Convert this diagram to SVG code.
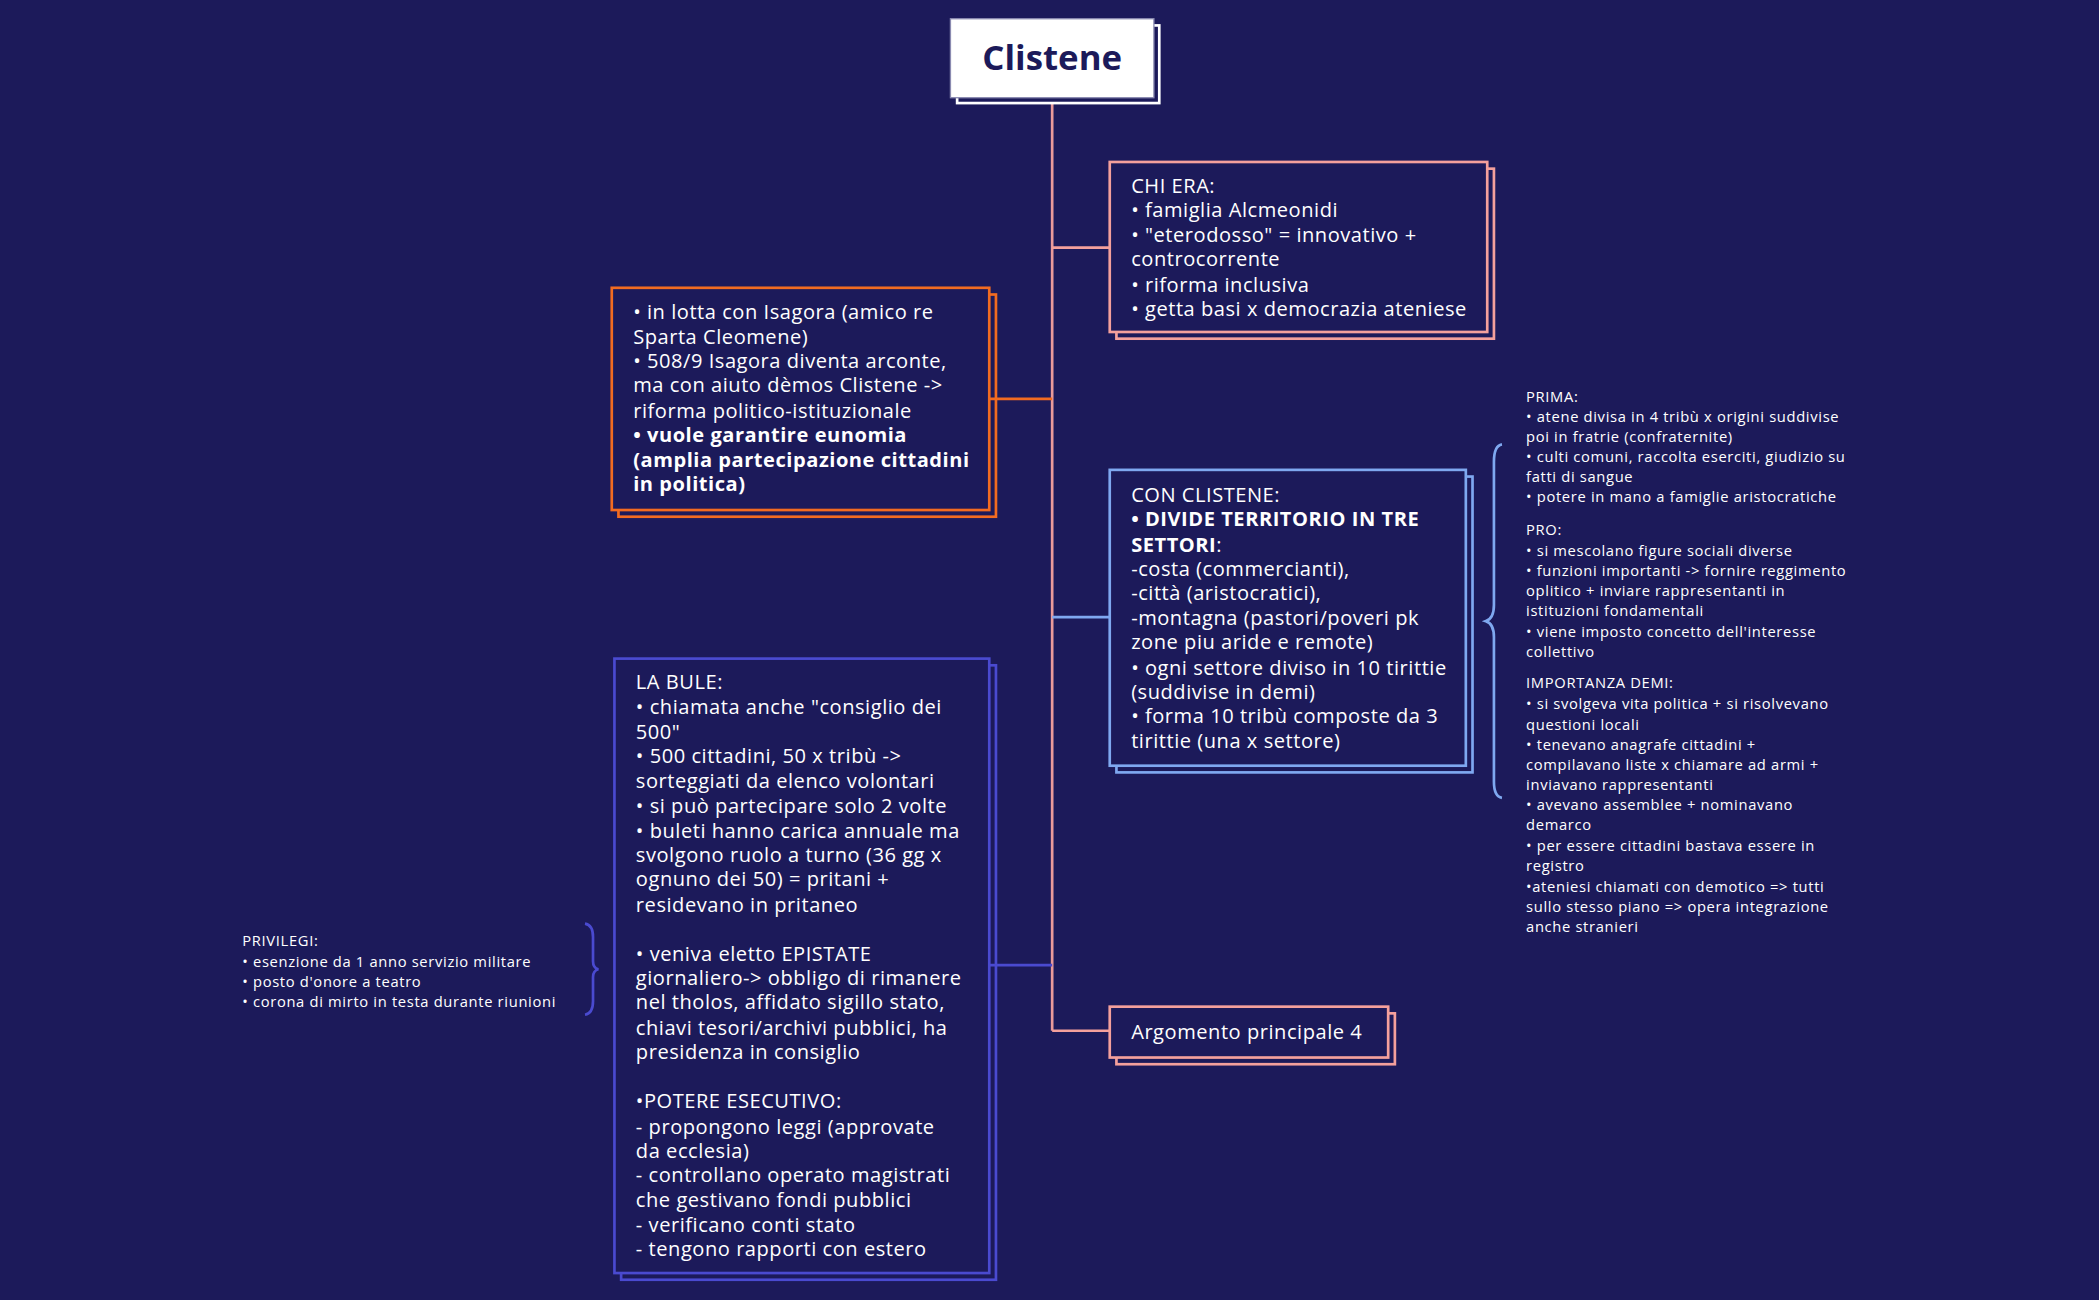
<svg xmlns="http://www.w3.org/2000/svg" width="2099" height="1300" viewBox="0 0 2099 1300">
<style>
text{font-family:"Open Sans","Liberation Sans",sans-serif;fill:#fff}
.t{font-size:15px;letter-spacing:0.4px}
.s{font-size:11px;letter-spacing:0.5px}
.b{font-weight:bold}
.box{fill:#1c1a5a;stroke-width:2}
.sh{fill:none;stroke-width:2}
.c{fill:none;stroke-width:2}
</style>
<rect width="2099" height="1300" fill="#1c1a5a"/>
<g transform="scale(1.33865)">
<g id="connectors">
<line class="c" x1="786" y1="73" x2="786" y2="770" stroke="#e99a9a"/>
<line class="c" x1="786" y1="185" x2="829" y2="185" stroke="#f4a09c"/>
<line class="c" x1="739" y1="298" x2="786" y2="298" stroke="#f26b21"/>
<line class="c" x1="786" y1="461" x2="829" y2="461" stroke="#7fa8f0"/>
<line class="c" x1="739" y1="721" x2="786" y2="721" stroke="#4a4ad0"/>
<line class="c" x1="786" y1="770" x2="829" y2="770" stroke="#f4a09c"/>
<path class="c" d="M1122,332 Q1116,333 1116,345 L1116,452 Q1116,462 1110,464 Q1116,466 1116,476 L1116,584 Q1116,595 1122,596" stroke="#7fa8f0" stroke-width="1.5"/>
<path class="c" d="M437,690 Q443,691 443,700 L443,718 Q443,723 447,724 Q443,725 443,730 L443,748 Q443,757 437,758" stroke="#4a4ad0" stroke-width="1.5"/>
</g>
<g id="root">
<rect x="715" y="19" width="151" height="58" fill="#1c1a5a" stroke="#fff" stroke-width="2"/>
<rect x="710" y="14" width="152" height="59" fill="#fff" stroke="#8a8ab0" stroke-width="1"/>
<text x="786" y="52" text-anchor="middle" class="b" font-size="26" style="fill:#1c1a5a">Clistene</text>
</g>
<g id="chiera">
<rect class="sh" x="834" y="126" width="282" height="127" stroke="#f4a09c"/>
<rect class="box" x="829" y="121" width="282" height="127" stroke="#f4a09c"/>
<text class="t" x="845"><tspan y="144">CHI ERA:</tspan><tspan x="845" y="162">• famiglia Alcmeonidi</tspan><tspan x="845" y="181">• "eterodosso" = innovativo +</tspan><tspan x="845" y="199">controcorrente</tspan><tspan x="845" y="218">• riforma inclusiva</tspan><tspan x="845" y="236">• getta basi x democrazia ateniese</tspan></text>
</g>
<g id="lotta">
<rect class="sh" x="462" y="220" width="282" height="166" stroke="#f26b21"/>
<rect class="box" x="457" y="215" width="282" height="166" stroke="#f26b21"/>
<text class="t" x="473"><tspan y="238">• in lotta con Isagora (amico re</tspan><tspan x="473" y="257">Sparta Cleomene)</tspan><tspan x="473" y="275">• 508/9 Isagora diventa arconte,</tspan><tspan x="473" y="293">ma con aiuto dèmos Clistene -&gt;</tspan><tspan x="473" y="312">riforma politico-istituzionale</tspan><tspan x="473" y="330" class="b">• vuole garantire eunomia</tspan><tspan x="473" y="349" class="b">(amplia partecipazione cittadini</tspan><tspan x="473" y="367" class="b">in politica)</tspan></text>
</g>
<g id="conclistene">
<rect class="sh" x="834" y="356" width="266" height="221" stroke="#7fa8f0"/>
<rect class="box" x="829" y="351" width="266" height="221" stroke="#7fa8f0"/>
<text class="t" x="845"><tspan y="375">CON CLISTENE:</tspan><tspan x="845" y="393" class="b">• DIVIDE TERRITORIO IN TRE</tspan><tspan x="845" y="412" class="b">SETTORI</tspan><tspan>:</tspan><tspan x="845" y="430">-costa (commercianti),</tspan><tspan x="845" y="448">-città (aristocratici),</tspan><tspan x="845" y="467">-montagna (pastori/poveri pk</tspan><tspan x="845" y="485">zone piu aride e remote)</tspan><tspan x="845" y="504">• ogni settore diviso in 10 tirittie</tspan><tspan x="845" y="522">(suddivise in demi)</tspan><tspan x="845" y="540">• forma 10 tribù composte da 3</tspan><tspan x="845" y="559">tirittie (una x settore)</tspan></text>
</g>
<g id="note-right">
<text class="s" x="1140"><tspan y="300">PRIMA:</tspan><tspan x="1140" y="315">• atene divisa in 4 tribù x origini suddivise</tspan><tspan x="1140" y="330">poi in fratrie (confraternite)</tspan><tspan x="1140" y="345">• culti comuni, raccolta eserciti, giudizio su</tspan><tspan x="1140" y="360">fatti di sangue</tspan><tspan x="1140" y="375">• potere in mano a famiglie aristocratiche</tspan><tspan x="1140" y="400">PRO:</tspan><tspan x="1140" y="415">• si mescolano figure sociali diverse</tspan><tspan x="1140" y="430">• funzioni importanti -&gt; fornire reggimento</tspan><tspan x="1140" y="445">oplitico + inviare rappresentanti in</tspan><tspan x="1140" y="460">istituzioni fondamentali</tspan><tspan x="1140" y="476">• viene imposto concetto dell'interesse</tspan><tspan x="1140" y="491">collettivo</tspan><tspan x="1140" y="514">IMPORTANZA DEMI:</tspan><tspan x="1140" y="530">• si svolgeva vita politica + si risolvevano</tspan><tspan x="1140" y="545">questioni locali</tspan><tspan x="1140" y="560">• tenevano anagrafe cittadini +</tspan><tspan x="1140" y="575">compilavano liste x chiamare ad armi +</tspan><tspan x="1140" y="590">inviavano rappresentanti</tspan><tspan x="1140" y="605">• avevano assemblee + nominavano</tspan><tspan x="1140" y="620">demarco</tspan><tspan x="1140" y="636">• per essere cittadini bastava essere in</tspan><tspan x="1140" y="651">registro</tspan><tspan x="1140" y="666">•ateniesi chiamati con demotico =&gt; tutti</tspan><tspan x="1140" y="681">sullo stesso piano =&gt; opera integrazione</tspan><tspan x="1140" y="696">anche stranieri</tspan></text>
</g>
<g id="bule">
<rect class="sh" x="464" y="497" width="280" height="459" stroke="#4a4ad0"/>
<rect class="box" x="459" y="492" width="280" height="459" stroke="#4a4ad0"/>
<text class="t" x="475"><tspan y="515">LA BULE:</tspan><tspan x="475" y="533">• chiamata anche "consiglio dei</tspan><tspan x="475" y="552">500"</tspan><tspan x="475" y="570">• 500 cittadini, 50 x tribù -&gt;</tspan><tspan x="475" y="589">sorteggiati da elenco volontari</tspan><tspan x="475" y="607">• si può partecipare solo 2 volte</tspan><tspan x="475" y="626">• buleti hanno carica annuale ma</tspan><tspan x="475" y="644">svolgono ruolo a turno (36 gg x</tspan><tspan x="475" y="662">ognuno dei 50) = pritani +</tspan><tspan x="475" y="681">residevano in pritaneo</tspan><tspan x="475" y="718">• veniva eletto EPISTATE</tspan><tspan x="475" y="736">giornaliero-&gt; obbligo di rimanere</tspan><tspan x="475" y="754">nel tholos, affidato sigillo stato,</tspan><tspan x="475" y="773">chiavi tesori/archivi pubblici, ha</tspan><tspan x="475" y="791">presidenza in consiglio</tspan><tspan x="475" y="828">•POTERE ESECUTIVO:</tspan><tspan x="475" y="847">- propongono leggi (approvate</tspan><tspan x="475" y="865">da ecclesia)</tspan><tspan x="475" y="883">- controllano operato magistrati</tspan><tspan x="475" y="902">che gestivano fondi pubblici</tspan><tspan x="475" y="920">- verificano conti stato</tspan><tspan x="475" y="938">- tengono rapporti con estero</tspan></text>
</g>
<g id="note-left">
<text class="s" x="181"><tspan y="707">PRIVILEGI:</tspan><tspan x="181" y="722">• esenzione da 1 anno servizio militare</tspan><tspan x="181" y="737">• posto d'onore a teatro</tspan><tspan x="181" y="752">• corona di mirto in testa durante riunioni</tspan></text>
</g>
<g id="arg4">
<rect class="sh" x="834" y="757" width="208" height="38" stroke="#f4a09c"/>
<rect class="box" x="829" y="752" width="208" height="38" stroke="#f4a09c"/>
<text class="t" x="845" y="776">Argomento principale 4</text>
</g>
</g>
</svg>
